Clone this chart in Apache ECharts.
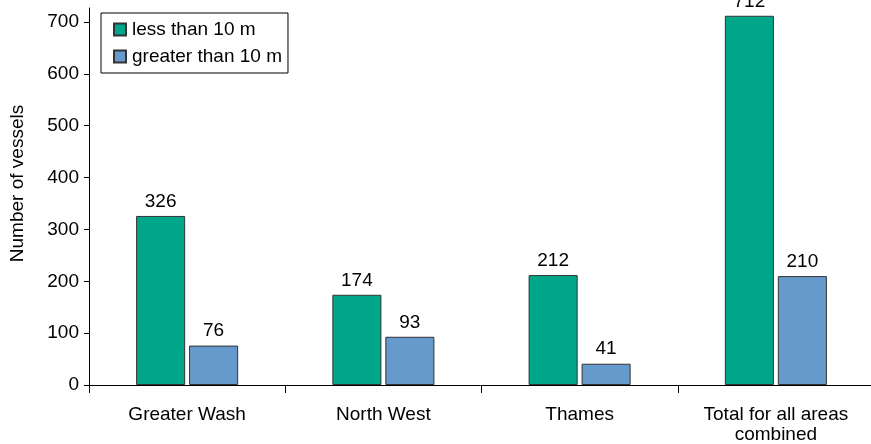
<!DOCTYPE html>
<html><head><meta charset="utf-8">
<script src="https://cdn.jsdelivr.net/npm/echarts@6/dist/echarts.min.js"></script>
<style>html,body{margin:0;padding:0;background:#fff}#c{width:871px;height:444px}</style>
</head><body><div id="c"></div>
<script>
const categories = ['Greater Wash', 'North West', 'Thames', 'Total for all areas\ncombined'];
const lessThan10 = [326, 174, 212, 712];
const greaterThan10 = [76, 93, 41, 210];
const yTicks = [0, 100, 200, 300, 400, 500, 600, 700];

const chart = echarts.init(document.getElementById('c'));
const font = 'Arial, Liberation Sans, sans-serif';
const FS = 19;
chart.setOption({
  animation: false,
  textStyle: { fontFamily: font },
  grid: { left: 89, right: -3, top: 8, bottom: 59, containLabel: false, outerBoundsMode: 'none' },
  legend: {
    orient: 'vertical', left: 101, top: 13,
    padding: [7, 6, 7, 12],
    itemGap: 8,
    borderColor: '#000', borderWidth: 1,
    icon: 'rect',
    itemWidth: 12, itemHeight: 12,
    textStyle: { fontSize: FS, color: '#000', fontFamily: font, padding: [0, 0, 0, 1] },
    data: ['less than 10 m', 'greater than 10 m']
  },
  xAxis: {
    type: 'category', data: categories,
    axisLine: { lineStyle: { color: '#000', width: 1 } },
    axisTick: { show: true, length: 8, lineStyle: { color: '#000' } },
    axisLabel: { color: '#000', fontSize: FS, margin: 20, lineHeight: 20, fontFamily: font }
  },
  yAxis: {
    type: 'value', min: 0, max: 727,
    name: 'Number of vessels', nameLocation: 'middle', nameGap: 62,
    nameTextStyle: { fontSize: FS, color: '#000', fontFamily: font, padding: [0, 0, 0, 26] },
    splitLine: { show: false },
    axisLine: { show: true, lineStyle: { color: '#000' } },
    axisTick: { show: true, length: 5, customValues: yTicks, lineStyle: { color: '#000' } },
    axisLabel: { color: '#000', fontSize: FS, margin: 10, customValues: yTicks, fontFamily: font }
  },
  series: [
    {
      name: 'less than 10 m', type: 'bar', data: lessThan10,
      barWidth: '25%', barGap: '8%',
      itemStyle: { color: '#00A68A', borderColor: '#333', borderWidth: 1 },
      label: { show: true, position: 'top', distance: 5, fontSize: FS, color: '#000', fontFamily: font }
    },
    {
      name: 'greater than 10 m', type: 'bar', data: greaterThan10,
      barWidth: '25%',
      itemStyle: { color: '#6699CC', borderColor: '#333', borderWidth: 1 },
      label: { show: true, position: 'top', distance: 5, fontSize: FS, color: '#000', fontFamily: font }
    }
  ]
});
</script></body></html>
